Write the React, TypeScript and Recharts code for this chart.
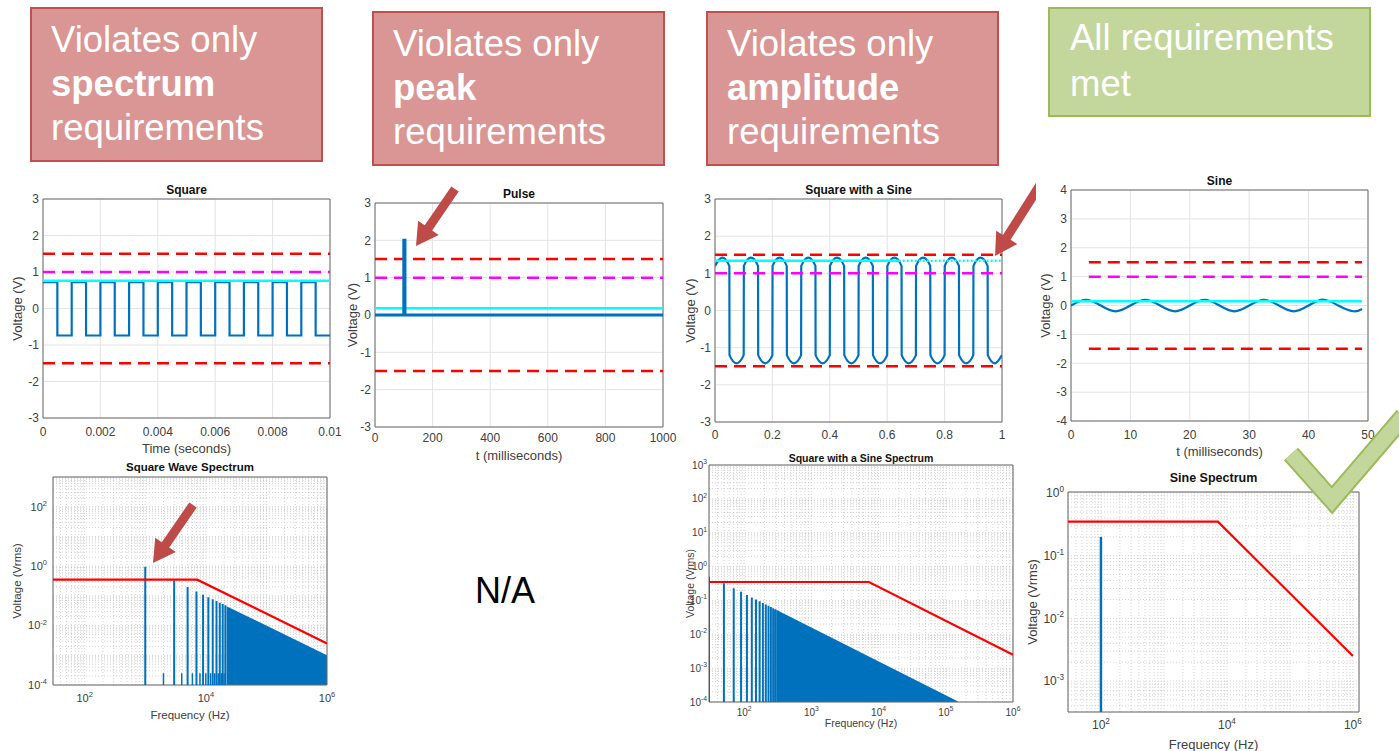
import React from 'react';
import {
  ComposedChart,
  Line,
  Area,
  XAxis,
  YAxis,
  CartesianGrid,
  ReferenceLine,
  ReferenceArea,
} from 'recharts';

const FONT = '"Liberation Sans", Arial, Helvetica, sans-serif';
const INK = '#404040';
const BLUE = '#0072BD';
const RED = '#FF0000';
const MAGENTA = '#FF00FF';
const CYAN = '#00FFFF';
const GRID = '#e3e3e3';
const MINOR = '#c6c6c6';
const FRAME = '#6a6a6a';
const DASH = '12 7';

// ---------- time-domain signals ----------
const squareTime = [
  0, 0.0005, 0.0005, 0.001, 0.001, 0.0015, 0.0015, 0.002, 0.002, 0.0025, 0.0025, 0.003, 0.003, 0.0035,
  0.0035, 0.004, 0.004, 0.0045, 0.0045, 0.005, 0.005, 0.0055, 0.0055, 0.006, 0.006, 0.0065, 0.0065, 0.007,
  0.007, 0.0075, 0.0075, 0.008, 0.008, 0.0085, 0.0085, 0.009, 0.009, 0.0095, 0.0095, 0.01,
];
const squareVolt = [
  0.72, 0.72, -0.74, -0.74, 0.72, 0.72, -0.74, -0.74, 0.72, 0.72, -0.74, -0.74, 0.72, 0.72, -0.74, -0.74,
  0.72, 0.72, -0.74, -0.74, 0.72, 0.72, -0.74, -0.74, 0.72, 0.72, -0.74, -0.74, 0.72, 0.72, -0.74, -0.74,
  0.72, 0.72, -0.74, -0.74, 0.72, 0.72, -0.74, -0.74,
];

const pulseTime = [0, 100, 100, 104, 104, 1000];
const pulseVolt = [0, 0, 2, 2, 0, 0];

const sqSineTime = [
  0, 0.025, 0.05, 0.0505, 0.075, 0.1,
  0.1005, 0.125, 0.15, 0.1505, 0.175, 0.2,
  0.2005, 0.225, 0.25, 0.2505, 0.275, 0.3,
  0.3005, 0.325, 0.35, 0.3505, 0.375, 0.4,
  0.4005, 0.425, 0.45, 0.4505, 0.475, 0.5,
  0.5005, 0.525, 0.55, 0.5505, 0.575, 0.6,
  0.6005, 0.625, 0.65, 0.6505, 0.675, 0.7,
  0.7005, 0.725, 0.75, 0.7505, 0.775, 0.8,
  0.8005, 0.825, 0.85, 0.8505, 0.875, 0.9,
  0.9005, 0.925, 0.95, 0.9505, 0.975, 1.0,
];
const sqSineVolt = [
  1.2, 1.42, 1.2, -1.2, -1.42, -1.2,
  1.2, 1.42, 1.2, -1.2, -1.42, -1.2,
  1.2, 1.42, 1.2, -1.2, -1.42, -1.2,
  1.2, 1.42, 1.2, -1.2, -1.42, -1.2,
  1.2, 1.42, 1.2, -1.2, -1.42, -1.2,
  1.2, 1.42, 1.2, -1.2, -1.42, -1.2,
  1.2, 1.42, 1.2, -1.2, -1.42, -1.2,
  1.2, 1.42, 1.2, -1.2, -1.42, -1.2,
  1.2, 1.42, 1.2, -1.2, -1.42, -1.2,
  1.2, 1.42, 1.2, -1.2, -1.42, -1.2,
];

const sineTime = [0, 2.5, 5, 7.5, 10, 12.5, 15, 17.5, 20, 22.5, 25, 27.5, 30, 32.5, 35, 37.5, 40, 42.5, 45, 47.5, 49];
const sineVolt = [0, 0.2, 0, -0.2, 0, 0.2, 0, -0.2, 0, 0.2, 0, -0.2, 0, 0.2, 0, -0.2, 0, 0.2, 0, -0.2, -0.12];

// requirement levels and measured amplitudes
const peakLimit = 1.5;
const ampLimit = 1.0;
const squareAmp = 0.76;
const pulseAmp = 0.18;
const sqSineAmp = 1.34;
const sineAmp = 0.15;

// ---------- spectra ----------
const limitFreq = [30, 7200, 1e6];
const limitVrms = [0.35, 0.35, 0.0025];

const squareOddFreq = [1000, 3000, 5000, 7000, 9000, 11000, 13000, 15000, 17000, 19000, 21000];
const squareOddVrms = [0.95, 0.33, 0.2, 0.14, 0.11, 0.09, 0.077, 0.067, 0.059, 0.053, 0.048];
const squareEvenFreq = [2000, 4000, 6000, 8000, 10000, 12000, 14000, 16000, 18000, 20000];
const squareEvenVrms = [2.5e-4, 2.5e-4, 2.5e-4, 2.5e-4, 2.5e-4, 2.5e-4, 2.5e-4, 2.5e-4, 2.5e-4, 2.5e-4];
const squareDenseFreq = [22000, 1e6];
const squareDenseVrms = [0.045, 0.001];

const sqSineHarmFreq = [30, 50, 70, 90, 110, 130, 150, 170, 190, 210, 230, 250, 270, 290];
const sqSineHarmVrms = [0.5, 0.32, 0.23, 0.18, 0.145, 0.123, 0.107, 0.094, 0.084, 0.076, 0.07, 0.064, 0.059, 0.055];
const sqSineDenseFreq = [300, 150000];
const sqSineDenseVrms = [0.053, 1.06e-4];

const sineSpecFreq = [100];
const sineSpecVrms = [0.2];

// ---------- helpers ----------
type Pt = { x: number; y: number | null };
type Rect = { x: number; y: number; w: number; h: number };
type Trace = { data: Pt[]; color: string; width: number; dash?: string; curve?: 'linear' | 'monotone' | 'natural' };

const zip = (xs: number[], ys: number[]): Pt[] => xs.map((x, i) => ({ x, y: ys[i] }));
const level = (xs: number[], v: number): Pt[] => xs.map((x) => ({ x, y: v }));
const stems = (fs: number[], vs: number[], floor: number): Pt[] => {
  const out: Pt[] = [];
  fs.forEach((f, i) => {
    out.push({ x: f, y: floor }, { x: f, y: vs[i] }, { x: f, y: null });
  });
  return out;
};
const logGrid = (lo: number, hi: number) => {
  const out: number[] = [];
  for (let n = Math.floor(Math.log10(lo)); n <= Math.ceil(Math.log10(hi)); n++) {
    for (let k = 1; k <= 9; k++) {
      const v = k * Math.pow(10, n);
      if (v > lo * 1.001 && v < hi * 0.999) out.push(v);
    }
  }
  return out;
};

const AXIS_W = 50;
const AXIS_H = 46;
const PAD_T = 12;
const PAD_R = 16;

function Title({ plot, y, text, size }: { plot: Rect; y: number; text: string; size: number }) {
  return (
    <div
      style={{
        position: 'absolute',
        left: plot.x,
        width: plot.w,
        top: y - size * 0.6,
        fontSize: size,
        lineHeight: `${size * 1.2}px`,
        fontWeight: 700,
        textAlign: 'center',
        color: '#111',
        whiteSpace: 'nowrap',
      }}
    >
      {text}
    </div>
  );
}

function PowTick(props: any) {
  const { x, y, payload, axis, size } = props;
  const exp = Math.round(Math.log10(payload.value));
  const sup = size * 0.68;
  if (axis === 'x') {
    return (
      <text x={x} y={y} textAnchor="middle" fill={INK} fontSize={size}>
        <tspan dy={size * 0.71}>10</tspan>
        <tspan dy={-size * 0.45} fontSize={sup}>{exp}</tspan>
      </text>
    );
  }
  return (
    <text x={x} y={y} textAnchor="end" fill={INK} fontSize={size}>
      <tspan dy={size * 0.355}>10</tspan>
      <tspan dy={-size * 0.45} fontSize={sup}>{exp}</tspan>
    </text>
  );
}

type TimeProps = {
  plot: Rect;
  title: string;
  titleY: number;
  xLabel?: string;
  xLabelY?: number;
  yLabelX: number;
  xTickY: number;
  xDomain: [number, number];
  xTicks: number[];
  yDomain: [number, number];
  yTicks: number[];
  traces: Trace[];
};

function TimePanel(p: TimeProps) {
  const left = p.plot.x - AXIS_W;
  const top = p.plot.y - PAD_T;
  const width = p.plot.w + AXIS_W + PAD_R;
  const height = p.plot.h + PAD_T + AXIS_H;
  const fs = 12;
  const ls = 13;
  const bottom = p.plot.y + p.plot.h + AXIS_H;
  return (
    <>
      <div style={{ position: 'absolute', left, top, width, height }}>
        <ComposedChart width={width} height={height} margin={{ top: PAD_T, right: PAD_R, bottom: 0, left: 0 }}>
          <CartesianGrid stroke={GRID} />
          <XAxis
            type="number"
            dataKey="x"
            domain={p.xDomain}
            ticks={p.xTicks}
            allowDataOverflow
            interval={0}
            height={AXIS_H}
            tickSize={0}
            tickMargin={p.xTickY - p.plot.y - p.plot.h - 0.355 * fs}
            axisLine={false}
            tick={{ fontSize: fs, fill: INK }}
            label={
              p.xLabel
                ? { value: p.xLabel, position: 'insideBottom', offset: bottom - (p.xLabelY as number) - 0.355 * ls, fill: INK, fontSize: ls }
                : undefined
            }
          />
          <YAxis
            type="number"
            domain={p.yDomain}
            ticks={p.yTicks}
            allowDataOverflow
            interval={0}
            width={AXIS_W}
            tickSize={0}
            tickMargin={4}
            axisLine={false}
            tick={{ fontSize: fs, fill: INK }}
            label={{
              value: 'Voltage (V)',
              angle: -90,
              position: 'insideLeft',
              offset: p.yLabelX - left,
              fill: INK,
              fontSize: ls,
              style: { textAnchor: 'middle' },
            }}
          />
          {p.traces.map((t, i) => (
            <Line
              key={i}
              data={t.data}
              dataKey="y"
              type={t.curve ?? 'linear'}
              stroke={t.color}
              strokeWidth={t.width}
              strokeDasharray={t.dash}
              dot={false}
              activeDot={false}
              legendType="none"
              isAnimationActive={false}
            />
          ))}
          <ReferenceArea
            x1={p.xDomain[0]}
            x2={p.xDomain[1]}
            y1={p.yDomain[0]}
            y2={p.yDomain[1]}
            fill="none"
            stroke={FRAME}
            strokeWidth={1}
            ifOverflow="visible"
          />
        </ComposedChart>
      </div>
      <Title plot={p.plot} y={p.titleY} text={p.title} size={12} />
    </>
  );
}

type SpecProps = {
  plot: Rect;
  title: string;
  titleY: number;
  titleSize: number;
  tickFont: number;
  labelFont: number;
  xLabelY: number;
  yLabelX: number;
  xTickY: number;
  yTickGap: number;
  xDomain: [number, number];
  xTicks: number[];
  yDomain: [number, number];
  yTicks: number[];
  stemSets: { data: Pt[]; width: number }[];
  dense?: Pt[];
};

function SpectrumPanel(p: SpecProps) {
  const left = p.plot.x - AXIS_W;
  const top = p.plot.y - PAD_T;
  const width = p.plot.w + AXIS_W + PAD_R;
  const height = p.plot.h + PAD_T + AXIS_H;
  const bottom = p.plot.y + p.plot.h + AXIS_H;
  const floor = p.yDomain[0];
  const margin = { top: PAD_T, right: PAD_R, bottom: 0, left: 0 };
  const limit = zip(limitFreq, limitVrms);
  return (
    <>
      <div style={{ position: 'absolute', left, top, width, height }}>
        {/* underlay: log grid */}
        <div style={{ position: 'absolute', left: 0, top: 0 }}>
          <ComposedChart width={width} height={height} margin={margin}>
            <CartesianGrid stroke={GRID} />
            <XAxis type="number" dataKey="x" scale="log" domain={p.xDomain} ticks={p.xTicks} allowDataOverflow interval={0} height={AXIS_H} tick={false} tickLine={false} axisLine={false} />
            <YAxis type="number" scale="log" domain={p.yDomain} ticks={p.yTicks} allowDataOverflow interval={0} width={AXIS_W} tick={false} tickLine={false} axisLine={false} />
            <Line data={limit} dataKey="y" stroke="none" dot={false} activeDot={false} legendType="none" isAnimationActive={false} />
            {logGrid(p.xDomain[0], p.xDomain[1]).map((v) => (
              <ReferenceLine key={'gx' + v} x={v} stroke={MINOR} strokeWidth={0.8} strokeDasharray="1 2" />
            ))}
            {logGrid(p.yDomain[0], p.yDomain[1]).map((v) => (
              <ReferenceLine key={'gy' + v} y={v} stroke={MINOR} strokeWidth={0.8} strokeDasharray="1 2" />
            ))}
          </ComposedChart>
        </div>
        {/* data layer */}
        <div style={{ position: 'absolute', left: 0, top: 0 }}>
          <ComposedChart width={width} height={height} margin={margin}>
            <XAxis
              type="number"
              dataKey="x"
              scale="log"
              domain={p.xDomain}
              ticks={p.xTicks}
              allowDataOverflow
              interval={0}
              height={AXIS_H}
              tickSize={0}
              tickMargin={p.xTickY - p.plot.y - p.plot.h - 0.355 * p.tickFont}
              axisLine={false}
              tick={(t: any) => <PowTick {...t} axis="x" size={p.tickFont} />}
              label={{
                value: 'Frequency (Hz)',
                position: 'insideBottom',
                offset: bottom - p.xLabelY - 0.355 * p.labelFont,
                fill: INK,
                fontSize: p.labelFont,
              }}
            />
            <YAxis
              type="number"
              scale="log"
              domain={p.yDomain}
              ticks={p.yTicks}
              allowDataOverflow
              interval={0}
              width={AXIS_W}
              tickSize={0}
              tickMargin={p.yTickGap}
              axisLine={false}
              tick={(t: any) => <PowTick {...t} axis="y" size={p.tickFont} />}
              label={{
                value: 'Voltage (Vrms)',
                angle: -90,
                position: 'insideLeft',
                offset: p.yLabelX - left,
                fill: INK,
                fontSize: p.labelFont,
                style: { textAnchor: 'middle' },
              }}
            />
            {p.dense && (
              <Area
                data={p.dense}
                dataKey="y"
                type="linear"
                stroke="none"
                fill={BLUE}
                fillOpacity={1}
                baseValue={floor}
                dot={false}
                activeDot={false}
                legendType="none"
                isAnimationActive={false}
              />
            )}
            {p.stemSets.map((s, i) => (
              <Line
                key={'st' + i}
                data={s.data}
                dataKey="y"
                type="linear"
                stroke={BLUE}
                strokeWidth={s.width}
                dot={false}
                activeDot={false}
                legendType="none"
                isAnimationActive={false}
              />
            ))}
            <Line
              data={limit}
              dataKey="y"
              type="linear"
              stroke={RED}
              strokeWidth={2.2}
              dot={false}
              activeDot={false}
              legendType="none"
              isAnimationActive={false}
            />
            <ReferenceArea
              x1={p.xDomain[0]}
              x2={p.xDomain[1]}
              y1={p.yDomain[0]}
              y2={p.yDomain[1]}
              fill="none"
              stroke={FRAME}
              strokeWidth={1}
              ifOverflow="visible"
            />
          </ComposedChart>
        </div>
      </div>
      <Title plot={p.plot} y={p.titleY} text={p.title} size={p.titleSize} />
    </>
  );
}

function Banner(props: {
  left: number;
  top: number;
  width: number;
  height: number;
  fill: string;
  border: string;
  textLeft: number;
  textTop: number;
  lineH: number;
  children: React.ReactNode;
}) {
  return (
    <>
      <div
        style={{
          position: 'absolute',
          left: props.left,
          top: props.top,
          width: props.width,
          height: props.height,
          boxSizing: 'border-box',
          background: props.fill,
          border: `2px solid ${props.border}`,
        }}
      />
      <div
        style={{
          position: 'absolute',
          left: props.textLeft,
          top: props.textTop,
          fontSize: 36.5,
          lineHeight: `${props.lineH}px`,
          color: '#fff',
          whiteSpace: 'nowrap',
        }}
      >
        {props.children}
      </div>
    </>
  );
}

function Arrow({ from, to }: { from: [number, number]; to: [number, number] }) {
  const dx = to[0] - from[0];
  const dy = to[1] - from[1];
  const len = Math.hypot(dx, dy);
  const ang = (Math.atan2(dy, dx) * 180) / Math.PI;
  const shaft = 9;
  const head = 25;
  const headLen = 22;
  const pts = [
    [0, 0],
    [-headLen, -head / 2],
    [-headLen, -shaft / 2],
    [-len, -shaft / 2],
    [-len, shaft / 2],
    [-headLen, shaft / 2],
    [-headLen, head / 2],
  ];
  return (
    <polygon
      points={pts.map((q) => q.join(',')).join(' ')}
      transform={`translate(${to[0]},${to[1]}) rotate(${ang})`}
      fill="#BE4B48"
    />
  );
}

const voltTicks3 = [-3, -2, -1, 0, 1, 2, 3];
const voltTicks4 = [-4, -3, -2, -1, 0, 1, 2, 3, 4];

export default function App() {
  const sqFloor = 1e-4;
  const sineFloor = 3.2e-4;
  return (
    <div
      style={{
        position: 'absolute',
        left: 0,
        top: 0,
        width: 1399,
        height: 751,
        background: '#fff',
        overflow: 'hidden',
        fontFamily: FONT,
      }}
    >
      <Banner left={30} top={7} width={293} height={155} fill="#D99694" border="#C0504D" textLeft={51} textTop={18} lineH={44}>
        Violates only
        <br />
        <b>spectrum</b>
        <br />
        requirements
      </Banner>
      <Banner left={372} top={11} width={293} height={155} fill="#D99694" border="#C0504D" textLeft={393} textTop={22} lineH={44}>
        Violates only
        <br />
        <b>peak</b>
        <br />
        requirements
      </Banner>
      <Banner left={706} top={11} width={293} height={155} fill="#D99694" border="#C0504D" textLeft={727} textTop={22} lineH={44}>
        Violates only
        <br />
        <b>amplitude</b>
        <br />
        requirements
      </Banner>
      <Banner left={1048} top={7} width={323} height={110} fill="#C3D69B" border="#9BBB59" textLeft={1070} textTop={15} lineH={46}>
        All requirements
        <br />
        met
      </Banner>

      <TimePanel
        plot={{ x: 43, y: 199, w: 287, h: 219 }}
        title="Square"
        titleY={190}
        xLabel="Time (seconds)"
        xLabelY={448}
        yLabelX={17}
        xTickY={432}
        xDomain={[0, 0.01]}
        xTicks={[0, 0.002, 0.004, 0.006, 0.008, 0.01]}
        yDomain={[-3, 3]}
        yTicks={voltTicks3}
        traces={[
          { data: zip(squareTime, squareVolt), color: BLUE, width: 2.2 },
          { data: level([0, 0.01], peakLimit), color: RED, width: 2.5, dash: DASH },
          { data: level([0, 0.01], -peakLimit), color: RED, width: 2.5, dash: DASH },
          { data: level([0, 0.01], ampLimit), color: MAGENTA, width: 2.5, dash: DASH },
          { data: level([0, 0.01], squareAmp), color: CYAN, width: 2.5 },
        ]}
      />

      <TimePanel
        plot={{ x: 375, y: 203, w: 288, h: 224 }}
        title="Pulse"
        titleY={194}
        xLabel="t (milliseconds)"
        xLabelY={455}
        yLabelX={352}
        xTickY={438}
        xDomain={[0, 1000]}
        xTicks={[0, 200, 400, 600, 800, 1000]}
        yDomain={[-3, 3]}
        yTicks={voltTicks3}
        traces={[
          { data: level([0, 1000], peakLimit), color: RED, width: 2.5, dash: DASH },
          { data: level([0, 1000], -peakLimit), color: RED, width: 2.5, dash: DASH },
          { data: level([0, 1000], ampLimit), color: MAGENTA, width: 2.5, dash: DASH },
          { data: level([0, 1000], pulseAmp), color: CYAN, width: 2.5 },
          { data: zip(pulseTime, pulseVolt), color: BLUE, width: 3 },
        ]}
      />

      <TimePanel
        plot={{ x: 715, y: 199, w: 287, h: 223 }}
        title="Square with a Sine"
        titleY={190}
        yLabelX={690}
        xTickY={435}
        xDomain={[0, 1]}
        xTicks={[0, 0.2, 0.4, 0.6, 0.8, 1]}
        yDomain={[-3, 3]}
        yTicks={voltTicks3}
        traces={[
          { data: zip(sqSineTime, sqSineVolt), color: BLUE, width: 2.2, curve: 'monotone' },
          { data: level([0, 1], peakLimit), color: RED, width: 2.5, dash: DASH },
          { data: level([0, 1], -peakLimit), color: RED, width: 2.5, dash: DASH },
          { data: level([0, 1], ampLimit), color: MAGENTA, width: 2.5, dash: DASH },
          { data: level([0, 0.64], sqSineAmp), color: CYAN, width: 2.5 },
          { data: level([0.64, 1], sqSineAmp), color: CYAN, width: 2.5, dash: '2 2' },
        ]}
      />

      <TimePanel
        plot={{ x: 1071, y: 190, w: 297, h: 231 }}
        title="Sine"
        titleY={181}
        xLabel="t (milliseconds)"
        xLabelY={451}
        yLabelX={1045}
        xTickY={435}
        xDomain={[0, 50]}
        xTicks={[0, 10, 20, 30, 40, 50]}
        yDomain={[-4, 4]}
        yTicks={voltTicks4}
        traces={[
          { data: zip(sineTime, sineVolt), color: BLUE, width: 2.2, curve: 'natural' },
          { data: level([3, 49], peakLimit), color: RED, width: 2.5, dash: DASH },
          { data: level([3, 49], -peakLimit), color: RED, width: 2.5, dash: DASH },
          { data: level([3, 49], ampLimit), color: MAGENTA, width: 2.5, dash: DASH },
          { data: level([0, 49], sineAmp), color: CYAN, width: 2.5 },
        ]}
      />

      <SpectrumPanel
        plot={{ x: 53, y: 477, w: 274, h: 208 }}
        title="Square Wave Spectrum"
        titleY={468}
        titleSize={11.5}
        tickFont={11}
        labelFont={11.5}
        xLabelY={715}
        yLabelX={17}
        xTickY={698}
        yTickGap={6}
        xDomain={[30, 1e6]}
        xTicks={[1e2, 1e4, 1e6]}
        yDomain={[sqFloor, 1e3]}
        yTicks={[1e-4, 1e-2, 1, 1e2]}
        dense={zip(squareDenseFreq, squareDenseVrms)}
        stemSets={[
          { data: stems(squareOddFreq, squareOddVrms, sqFloor), width: 2 },
          { data: stems(squareEvenFreq, squareEvenVrms, sqFloor), width: 1.5 },
        ]}
      />

      <div
        style={{
          position: 'absolute',
          left: 475,
          top: 573,
          fontSize: 36,
          lineHeight: '36px',
          color: '#000',
        }}
      >
        N/A
      </div>

      <SpectrumPanel
        plot={{ x: 709, y: 465, w: 304, h: 237 }}
        title="Square with a Sine Spectrum"
        titleY={458}
        titleSize={10.5}
        tickFont={10}
        labelFont={10.5}
        xLabelY={723}
        yLabelX={690}
        xTickY={712}
        yTickGap={2}
        xDomain={[30, 1e6]}
        xTicks={[1e2, 1e3, 1e4, 1e5, 1e6]}
        yDomain={[sqFloor, 1e3]}
        yTicks={[1e-4, 1e-3, 1e-2, 1e-1, 1, 1e1, 1e2, 1e3]}
        dense={zip(sqSineDenseFreq, sqSineDenseVrms)}
        stemSets={[{ data: stems(sqSineHarmFreq, sqSineHarmVrms, sqFloor), width: 2 }]}
      />

      <SpectrumPanel
        plot={{ x: 1068, y: 492, w: 291, h: 220 }}
        title="Sine Spectrum"
        titleY={478}
        titleSize={12.5}
        tickFont={12}
        labelFont={13}
        xLabelY={744}
        yLabelX={1032}
        xTickY={725}
        yTickGap={4}
        xDomain={[30, 1.25e6]}
        xTicks={[1e2, 1e4, 1e6]}
        yDomain={[sineFloor, 1.04]}
        yTicks={[1e-3, 1e-2, 1e-1, 1]}
        stemSets={[{ data: stems(sineSpecFreq, sineSpecVrms, sineFloor), width: 2.5 }]}
      />

      <svg
        width={1399}
        height={751}
        style={{ position: 'absolute', left: 0, top: 0, pointerEvents: 'none' }}
      >
        <defs>
          <clipPath id="cutArrow">
            <rect x={0} y={0} width={1036} height={751} />
          </clipPath>
        </defs>
        <Arrow from={[455, 189]} to={[416, 246]} />
        <Arrow from={[193, 505]} to={[153, 563]} />
        <g clipPath="url(#cutArrow)">
          <Arrow from={[1045, 177]} to={[995, 256]} />
        </g>
        <polyline
          points="1291,454 1332,500 1404,416"
          fill="none"
          stroke="#9BBB59"
          strokeWidth={19}
          strokeLinejoin="miter"
        />
        <polyline
          points="1291,454 1332,500 1404,416"
          fill="none"
          stroke="#C3D69B"
          strokeWidth={15}
          strokeLinejoin="miter"
        />
      </svg>
    </div>
  );
}
